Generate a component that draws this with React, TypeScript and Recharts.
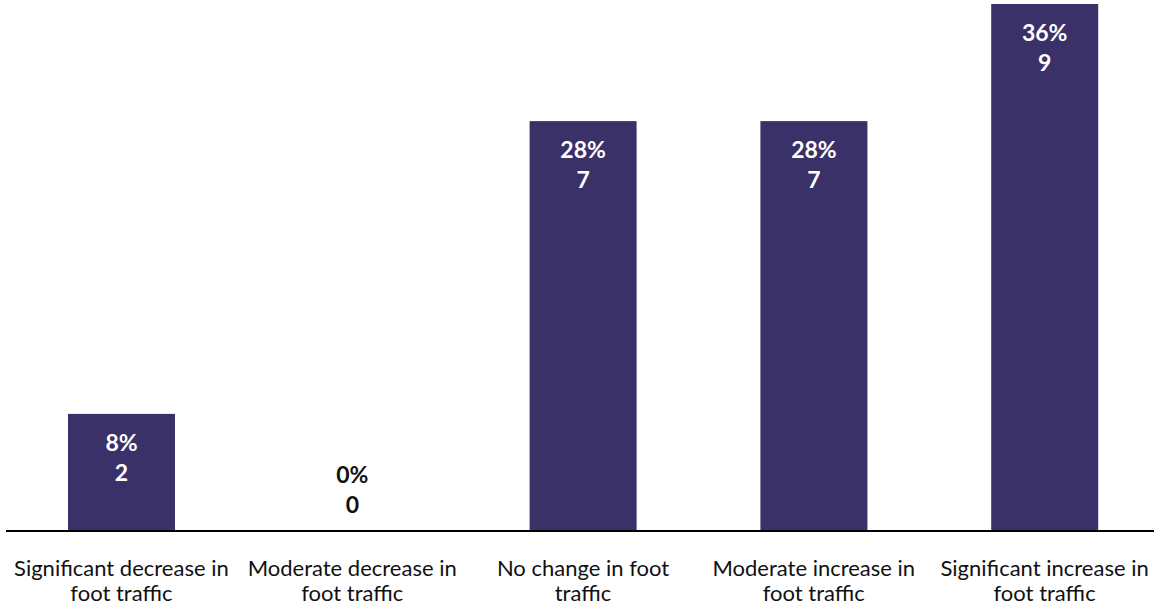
import { Bar, BarChart, XAxis, YAxis } from "recharts";

const categories = [
  "Significant decrease in foot traffic",
  "Moderate decrease in foot traffic",
  "No change in foot traffic",
  "Moderate increase in foot traffic",
  "Significant increase in foot traffic",
];

// how each category label wraps in the picture
const tickLines = [
  ["Significant decrease in", "foot traffic"],
  ["Moderate decrease in", "foot traffic"],
  ["No change in foot", "traffic"],
  ["Moderate increase in", "foot traffic"],
  ["Significant increase in", "foot traffic"],
];

const counts = [2, 0, 7, 7, 9];
const percents = ["8%", "0%", "28%", "28%", "36%"];

const data = categories.map((label, i) => ({ label, count: counts[i], pct: percents[i] }));

const FONT = "Lato, 'Open Sans', sans-serif";
const BAR = "#3b3169";

function CategoryTick(props: any) {
  const { x, y, index } = props;
  const lines = tickLines[index] ?? [String(props.payload?.value)];
  return (
    <g>
      {lines.map((line: string, i: number) => (
        <text
          key={i}
          x={x}
          y={y + 37 + i * 25}
          textAnchor="middle"
          fill="#111"
          fontSize={22}
          fontFamily={FONT}
        >
          {line}
        </text>
      ))}
    </g>
  );
}

// bar rect plus its two-line label (white inside, black above the axis when empty)
function BarWithLabel(props: any) {
  const { x, y, width, height, payload } = props;
  const cx = x + width / 2;
  const empty = !height;
  const base = empty ? y - 48 : y + 37;
  const fill = empty ? "#111" : "#fff";
  return (
    <g>
      {!empty && <rect x={x} y={y} width={width} height={height} fill={BAR} />}
      <text x={cx} y={base} textAnchor="middle" fill={fill} fontSize={23} fontWeight={700} fontFamily={FONT}>
        {payload.pct}
      </text>
      <text x={cx} y={base + 30} textAnchor="middle" fill={fill} fontSize={23} fontWeight={700} fontFamily={FONT}>
        {payload.count}
      </text>
    </g>
  );
}

export default function App() {
  return (
    <div style={{ position: "absolute", left: 0, top: 0, width: 1154, height: 605, overflow: "hidden" }}>
      <BarChart
        width={1160}
        height={605}
        data={data}
        margin={{ top: 4, right: 0, left: 6, bottom: 0 }}
        barCategoryGap={0}
      >
        <XAxis
          dataKey="label"
          height={74}
          interval={0}
          tickLine={false}
          axisLine={{ stroke: "#000", strokeWidth: 2 }}
          tick={<CategoryTick />}
        />
        <YAxis hide domain={[0, 9]} />
        <Bar dataKey="count" fill={BAR} barSize={107} isAnimationActive={false} shape={<BarWithLabel />} />
      </BarChart>
    </div>
  );
}
